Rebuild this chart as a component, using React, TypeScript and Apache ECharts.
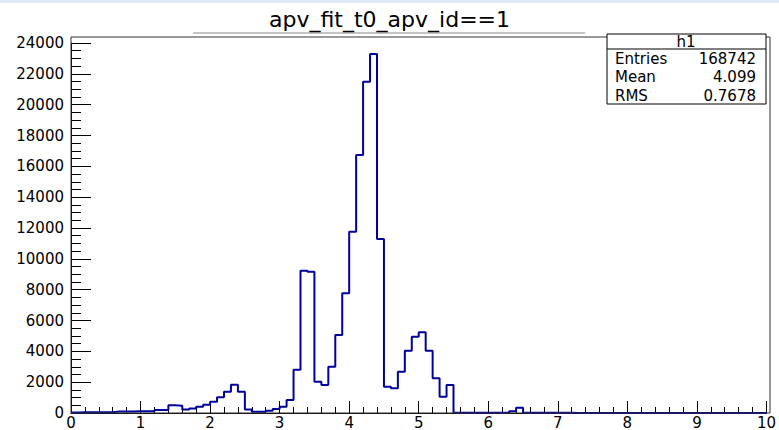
import React, { useEffect, useRef } from "react";
import * as echarts from "echarts";

// Histogram "h1": 100 bins from 0 to 10 (bin width 0.1), counts
const binWidth = 0.1;
const binValues: number[] = [
  // 0.0 - 0.9
  40, 45, 50, 45, 55, 50, 95, 100, 105, 110,
  // 1.0 - 1.9
  115, 120, 190, 195, 500, 470, 230, 300, 410, 540,
  // 2.0 - 2.9
  735, 1015, 1384, 1840, 1384, 220, 85, 85, 145, 255,
  // 3.0 - 3.9
  410, 843, 2810, 9230, 9170, 2030, 1816, 3005, 5060, 7762,
  // 4.0 - 4.9
  11760, 16734, 21488, 23285, 11286, 1708, 1600, 2681, 4043, 4951,
  // 5.0 - 5.9
  5232, 4043, 2248, 1059, 1816, 20, 20, 18, 18, 15,
  // 6.0 - 6.9
  15, 15, 15, 120, 340, 12, 12, 10, 10, 10,
  // 7.0 - 7.9
  10, 10, 8, 8, 8, 8, 8, 8, 8, 8,
  // 8.0 - 8.9
  8, 8, 8, 8, 8, 8, 8, 8, 8, 8,
  // 9.0 - 9.9
  8, 8, 8, 8, 8, 8, 8, 8, 8, 8,
];

const xTickValues = [0, 1, 2, 3, 4, 5, 6, 7, 8, 9, 10];
const yTickValues = [0, 2000, 4000, 6000, 8000, 10000, 12000, 14000, 16000, 18000, 20000, 22000, 24000];

const titleText = "apv_fit_t0_apv_id==1";
const statsName = "h1";
const statsLabels = ["Entries", "Mean", "RMS"];
const statsValues = ["168742", "4.099", "0.7678"];

const FONT = "DejaVu Sans";

export default function App() {
  const ref = useRef<HTMLDivElement>(null);

  useEffect(() => {
    if (!ref.current) return;
    const chart = echarts.init(ref.current, null, { renderer: "svg" });

    const stepData: number[][] = binValues.map((v, i) => [i * binWidth, v]);
    stepData.push([binValues.length * binWidth, binValues[binValues.length - 1]]);

    const xMin = xTickValues[0];
    const xMax = xTickValues[xTickValues.length - 1];
    const yMin = yTickValues[0];
    const yMax = yTickValues[yTickValues.length - 1];

    const statsGraphics: any[] = [];
    statsGraphics.push({
      type: "rect",
      shape: { x: 607, y: 34, width: 159, height: 70 },
      style: { fill: "#fff", stroke: "#000", lineWidth: 1 },
      z: 100,
    });
    statsGraphics.push({
      type: "line",
      shape: { x1: 607, y1: 49, x2: 766, y2: 49 },
      style: { stroke: "#000", lineWidth: 1 },
      z: 101,
    });
    statsGraphics.push({
      type: "text",
      x: 686,
      y: 42,
      style: {
        text: statsName,
        fontFamily: FONT,
        fontSize: 15,
        fill: "#000",
        align: "center",
        verticalAlign: "middle",
      },
      z: 102,
    });
    statsLabels.forEach((lab, i) => {
      const cy = 58.5 + i * 18.7;
      statsGraphics.push({
        type: "text",
        x: 615,
        y: cy,
        style: { text: lab, fontFamily: FONT, fontSize: 15, fill: "#000", align: "left", verticalAlign: "middle" },
        z: 102,
      });
      statsGraphics.push({
        type: "text",
        x: 756,
        y: cy,
        style: { text: statsValues[i], fontFamily: FONT, fontSize: 15, fill: "#000", align: "right", verticalAlign: "middle" },
        z: 102,
      });
    });

    chart.setOption({
      animation: false,
      backgroundColor: "#fff",
      title: {
        text: titleText,
        left: "center",
        top: 3,
        textStyle: { fontFamily: FONT, fontSize: 22, fontWeight: "normal", color: "#000" },
      },
      grid: { left: 71, top: 43, width: 699, height: 370, containLabel: false },
      xAxis: {
        type: "value",
        min: xMin,
        max: xMax,
        interval: 1,
        axisLine: { show: true, onZero: false, lineStyle: { color: "#000", width: 1 } },
        axisTick: { show: true, inside: true, length: 12, lineStyle: { color: "#000", width: 1 } },
        minorTick: { show: true, splitNumber: 5, length: 6, lineStyle: { color: "#000", width: 1 } },
        axisLabel: {
          fontFamily: FONT,
          fontSize: 15,
          color: "#000",
          margin: 2,
          formatter: (v: number) => String(v),
        },
        splitLine: { show: false },
      },
      yAxis: {
        type: "value",
        min: yMin,
        max: yMax,
        interval: 2000,
        axisLine: { show: true, onZero: false, lineStyle: { color: "#000", width: 1 } },
        axisTick: { show: true, inside: true, length: 20, lineStyle: { color: "#000", width: 1 } },
        minorTick: { show: true, splitNumber: 4, length: 10, lineStyle: { color: "#000", width: 1 } },
        axisLabel: {
          fontFamily: FONT,
          fontSize: 15,
          color: "#000",
          margin: 7,
          formatter: (v: number) => String(v),
        },
        splitLine: { show: false },
      },
      series: [
        {
          type: "line",
          data: stepData,
          step: "end",
          symbol: "none",
          lineStyle: { color: "#00009c", width: 2 },
          z: 5,
        },
      ],
      graphic: [
        {
          type: "rect",
          shape: { x: 0, y: 0, width: 779, height: 3 },
          style: { fill: "#dcebf5" },
          silent: true,
        },
        {
          type: "line",
          shape: { x1: 193, y1: 33, x2: 585, y2: 33 },
          style: { stroke: "#888", lineWidth: 1 },
          silent: true,
        },
        {
          type: "rect",
          shape: { x: 71, y: 37, width: 699, height: 376 },
          style: { fill: "none", stroke: "#333", lineWidth: 1 },
          silent: true,
          z: 50,
        },
        ...statsGraphics,
      ],
    });

    return () => {
      chart.dispose();
    };
  }, []);

  return (
    <div
      ref={ref}
      style={{ position: "fixed", left: 0, top: 0, width: 779, height: 430, background: "#fff" }}
    />
  );
}
